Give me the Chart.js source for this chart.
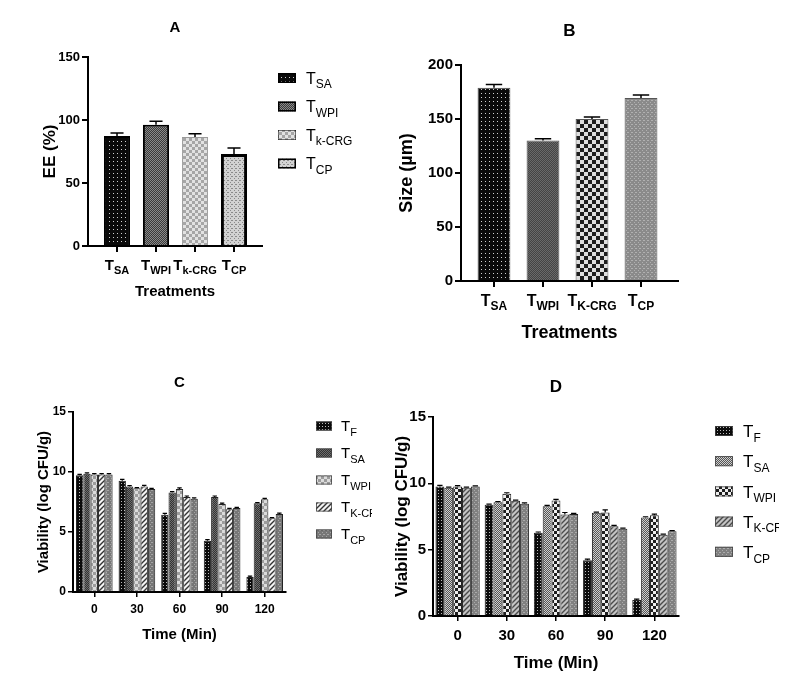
<!DOCTYPE html>
<html>
<head>
<meta charset="utf-8">
<script src="https://cdn.jsdelivr.net/npm/chart.js@4.4.1/dist/chart.umd.min.js"></script>
<style>
  body { margin: 0; background: #fff; width: 796px; height: 685px; position: relative; overflow: hidden; }
  canvas { position: absolute; }
</style>
</head>
<body>
<canvas id="chartA" width="380" height="310" style="left:0;top:0"></canvas>
<canvas id="chartB" width="320" height="350" style="left:380px;top:0"></canvas>
<canvas id="chartC" width="372" height="300" style="left:0;top:350px"></canvas>
<canvas id="chartD" width="399" height="325" style="left:380px;top:360px"></canvas>
<script>
// ---- data ----
const aCats = ['SA', 'WPI', 'k-CRG', 'CP'];
const aEE = [87.3, 96.2, 86.6, 73.0];
const aEEErr = [2.4, 2.8, 2.4, 4.8];
const aTicks = [0, 50, 100, 150];

const bCats = ['SA', 'WPI', 'K-CRG', 'CP'];
const bSize = [179, 130, 150, 169.5];
const bSizeErr = [3, 1.8, 1.8, 2.8];
const bTicks = [0, 50, 100, 150, 200];

const times = ['0', '30', '60', '90', '120'];
const cdSeries = ['F', 'SA', 'WPI', 'K-CRG', 'CP'];
const vTicks = [0, 5, 10, 15];

const cTF = [9.72, 9.28, 6.44, 4.28, 1.25];
const cTSA = [9.86, 8.80, 8.30, 7.92, 7.39];
const cTWPI = [9.80, 8.64, 8.58, 7.33, 7.72];
const cTK = [9.80, 8.80, 7.92, 6.89, 6.14];
const cTCP = [9.80, 8.58, 7.78, 7.00, 6.50];
const cTFErr = [0.08, 0.10, 0.12, 0.08, 0.08];
const cTSAErr = [0.06, 0.06, 0.06, 0.08, 0.06];
const cTWPIErr = [0.06, 0.06, 0.10, 0.08, 0.08];
const cTKErr = [0.06, 0.08, 0.08, 0.08, 0.06];
const cTCPErr = [0.06, 0.06, 0.06, 0.06, 0.08];

const dTF = [9.77, 8.38, 6.27, 4.20, 1.21];
const dTSA = [9.67, 8.58, 8.28, 7.78, 7.42];
const dTWPI = [9.77, 9.21, 8.71, 7.80, 7.60];
const dTK = [9.67, 8.68, 7.65, 6.77, 6.12];
const dTCP = [9.77, 8.46, 7.68, 6.57, 6.39];
const dTFErr = [0.08, 0.06, 0.06, 0.08, 0.06];
const dTSAErr = [0.04, 0.05, 0.06, 0.05, 0.06];
const dTWPIErr = [0.06, 0.08, 0.08, 0.20, 0.08];
const dTKErr = [0.04, 0.06, 0.15, 0.06, 0.05];
const dTCPErr = [0.04, 0.06, 0.06, 0.05, 0.05];

const FONT = "'Liberation Sans', Arial, sans-serif";
const NARROW = "'Liberation Sans Narrow', 'Arial Narrow', 'Liberation Sans', sans-serif";

Chart.defaults.color = '#000';

// ---- fill patterns ----
function pattern(size, draw) {
  const c = document.createElement('canvas');
  c.width = size; c.height = size;
  const g = c.getContext('2d');
  draw(g, size);
  return g.createPattern(c, 'repeat');
}
function dots(bg, fg, s) {
  return pattern(s, g => { g.fillStyle = bg; g.fillRect(0, 0, s, s); g.fillStyle = fg; g.fillRect(1, 1, 1, 1); });
}
function checker(a, b, s) {
  return pattern(2 * s, g => {
    g.fillStyle = a; g.fillRect(0, 0, 2 * s, 2 * s);
    g.fillStyle = b; g.fillRect(0, 0, s, s); g.fillRect(s, s, s, s);
  });
}
function hatch(bg, fg) {
  return pattern(5, g => {
    g.fillStyle = bg; g.fillRect(0, 0, 5, 5);
    g.strokeStyle = fg; g.lineWidth = 1.4;
    g.beginPath();
    g.moveTo(0, 5); g.lineTo(5, 0);
    g.moveTo(-1, 1); g.lineTo(1, -1);
    g.moveTo(4, 6); g.lineTo(6, 4);
    g.stroke();
  });
}
function speckle(bg, fg) {
  return pattern(4, g => {
    g.fillStyle = bg; g.fillRect(0, 0, 4, 4);
    g.fillStyle = fg; g.fillRect(0, 0, 1, 1); g.fillRect(2, 2, 1, 1); g.fillRect(3, 0, 1, 1);
  });
}

// "T" with a subscript
function drawT(ctx, x, y, sub, size, family, weight, center) {
  const big = `${weight} ${size}px ${family}`;
  const small = `${weight} ${Math.round(size * 0.72)}px ${family}`;
  ctx.font = big;
  const w1 = ctx.measureText('T').width;
  ctx.font = small;
  const w2 = ctx.measureText(sub).width;
  const x0 = center ? x - (w1 + w2) / 2 : x;
  ctx.textAlign = 'left';
  ctx.textBaseline = 'alphabetic';
  ctx.fillStyle = '#000';
  ctx.font = big;
  ctx.fillText('T', x0, y);
  ctx.font = small;
  ctx.fillText(sub, x0 + w1, y + size * 0.28);
}

function makePanel(cfg) {
  return {
    id: 'panel',
    afterDatasetsDraw(chart) {
      const ctx = chart.ctx;
      ctx.save();
      ctx.strokeStyle = '#000';
      ctx.lineWidth = cfg.errWidth || 1.5;
      chart.data.datasets.forEach((ds, di) => {
        if (!ds.errors) return;
        const meta = chart.getDatasetMeta(di);
        const ys = chart.scales.y;
        meta.data.forEach((bar, j) => {
          const raw = ds.data[j];
          const val = typeof raw === 'object' ? raw.y : raw;
          const top = ys.getPixelForValue(val + ds.errors[j]);
          const half = bar.width * (cfg.cap || 0.5) / 2;
          ctx.beginPath();
          ctx.moveTo(bar.x, bar.y);
          ctx.lineTo(bar.x, top);
          ctx.moveTo(bar.x - half, top);
          ctx.lineTo(bar.x + half, top);
          ctx.stroke();
        });
      });
      ctx.restore();
    },
    afterDraw(chart) {
      const ctx = chart.ctx;
      const area = chart.chartArea;
      ctx.save();
      ctx.fillStyle = '#000';
      ctx.font = `bold ${cfg.letterSize}px ${cfg.family}`;
      ctx.textAlign = 'center';
      ctx.textBaseline = 'middle';
      ctx.fillText(cfg.letter, (area.left + area.right) / 2, cfg.letterY);
      if (cfg.xSubs) {
        const xs = chart.scales.x;
        cfg.xSubs.forEach((s, i) => {
          drawT(ctx, xs.getPixelForValue(i), xs.top + cfg.xLabelDy, s, cfg.xLabelSize, cfg.family, 'bold', true);
        });
      }
      if (cfg.legend) {
        const L = cfg.legend;
        L.items.forEach((it, i) => {
          const cy = L.y + i * L.dy;
          ctx.fillStyle = it.fill;
          ctx.fillRect(L.x, cy - L.h / 2, L.w, L.h);
          ctx.strokeStyle = it.border;
          ctx.lineWidth = it.bw;
          ctx.strokeRect(L.x + it.bw / 2, cy - L.h / 2 + it.bw / 2, L.w - it.bw, L.h - it.bw);
          drawT(ctx, L.tx, cy + L.size * 0.36, it.sub, L.size, L.family, 'normal', false);
        });
      }
      ctx.restore();
    }
  };
}

function axisStyle() {
  return {
    grid: { offset: false, drawOnChartArea: false, drawTicks: true, tickLength: 6, color: '#000', lineWidth: 2 },
    border: { color: '#000', width: 2 }
  };
}

// ---- Panel A ----
const aFill = [dots('#0a0a0a', '#cfcfcf', 4), checker('#3a3a3a', '#8a8a8a', 1), checker('#a6a6a6', '#e2e2e2', 3), speckle('#d2d2d2', '#8a8a8a')];
const aBorder = ['#000', '#000', '#9a9a9a', '#000'];
const aBorderW = [2, 2, 1, 3];

new Chart(document.getElementById('chartA'), {
  type: 'bar',
  data: {
    datasets: [{
      data: aEE.map((v, i) => ({ x: i, y: v })),
      errors: aEEErr,
      backgroundColor: aFill,
      borderColor: aBorder,
      borderWidth: aBorderW,
      barPercentage: 0.67,
      categoryPercentage: 1
    }]
  },
  options: {
    responsive: false, animation: false, devicePixelRatio: 1,
    layout: { padding: { left: 0, right: 118, top: 57, bottom: 0 } },
    plugins: { legend: { display: false }, tooltip: { enabled: false } },
    scales: {
      x: {
        type: 'linear', offset: false, min: -0.744, max: 3.718,
        afterBuildTicks: ax => { ax.ticks = aCats.map((c, i) => ({ value: i })); },
        afterFit: ax => { ax.height = 64; },
        ticks: { display: false },
        ...axisStyle(),
        title: { display: true, text: 'Treatments', font: { family: FONT, size: 15, weight: 'bold' }, padding: { top: 0, bottom: 9 } }
      },
      y: {
        min: 0, max: 150,
        afterBuildTicks: ax => { ax.ticks = aTicks.map(v => ({ value: v })); },
        afterFit: ax => { ax.width = 88; },
        ticks: { font: { family: FONT, size: 13, weight: 'bold' }, padding: 2 },
        ...axisStyle(),
        title: { display: true, text: 'EE (%)', font: { family: FONT, size: 17, weight: 'bold' }, padding: { top: 40, bottom: 0 } }
      }
    }
  },
  plugins: [makePanel({
    letter: 'A', letterY: 28, letterSize: 15, family: FONT,
    xSubs: aCats, xLabelDy: 24, xLabelSize: 15, cap: 0.5,
    legend: {
      x: 278, w: 18, h: 10, y: 78, dy: 28.5, tx: 306, size: 16, family: FONT,
      items: aCats.map((c, i) => ({ sub: c, fill: aFill[i], border: '#000', bw: i === 2 ? 0.5 : 1.5 }))
    }
  })]
});

// ---- Panel B ----
const bFill = [dots('#0a0a0a', '#d0d0d0', 4), checker('#444', '#6a6a6a', 1), checker('#1e1e1e', '#dedede', 4), speckle('#8a8a8a', '#b0b0b0')];

new Chart(document.getElementById('chartB'), {
  type: 'bar',
  data: {
    datasets: [{
      data: bSize.map((v, i) => ({ x: i, y: v })),
      errors: bSizeErr,
      backgroundColor: bFill,
      borderColor: '#555',
      borderWidth: 1,
      barPercentage: 0.67,
      categoryPercentage: 1
    }]
  },
  options: {
    responsive: false, animation: false, devicePixelRatio: 1,
    layout: { padding: { left: 0, right: 22, top: 65, bottom: 0 } },
    plugins: { legend: { display: false }, tooltip: { enabled: false } },
    scales: {
      x: {
        type: 'linear', offset: false, min: -0.673, max: 3.755,
        afterBuildTicks: ax => { ax.ticks = bCats.map((c, i) => ({ value: i })); },
        afterFit: ax => { ax.height = 69; },
        ticks: { display: false },
        ...axisStyle(),
        title: { display: true, text: 'Treatments', font: { family: FONT, size: 18, weight: 'bold' }, padding: { top: 0, bottom: 6 } }
      },
      y: {
        min: 0, max: 200,
        afterBuildTicks: ax => { ax.ticks = bTicks.map(v => ({ value: v })); },
        afterFit: ax => { ax.width = 81; },
        ticks: { font: { family: FONT, size: 15, weight: 'bold' }, padding: 2 },
        ...axisStyle(),
        title: { display: true, text: 'Size (\u00b5m)', font: { family: FONT, size: 18, weight: 'bold' }, padding: { top: 16, bottom: 0 } }
      }
    }
  },
  plugins: [makePanel({
    letter: 'B', letterY: 31, letterSize: 17, family: FONT,
    xSubs: bCats, xLabelDy: 25, xLabelSize: 16, cap: 0.5
  })]
});

// ---- Panels C and D ----
function viabilityChart(id, series, errs, fills, borderW, pad, xH, yW, sizes, panel) {
  return new Chart(document.getElementById(id), {
    type: 'bar',
    data: {
      labels: times,
      datasets: series.map((s, i) => ({
        label: 'T' + cdSeries[i],
        data: s,
        errors: errs[i],
        backgroundColor: fills[i],
        borderColor: '#222',
        borderWidth: borderW,
        barPercentage: 1,
        categoryPercentage: sizes.cat
      }))
    },
    options: {
      responsive: false, animation: false, devicePixelRatio: 1,
      layout: { padding: pad },
      plugins: { legend: { display: false }, tooltip: { enabled: false } },
      scales: {
        x: {
          afterFit: ax => { ax.height = xH; },
          ticks: { font: { family: NARROW, size: sizes.tick, weight: 'bold' }, padding: sizes.xPad, maxRotation: 0 },
          grid: { offset: false, drawOnChartArea: false, drawTicks: true, tickLength: 5, color: '#000', lineWidth: 1.5 },
          border: { color: '#000', width: 2 },
          title: { display: true, text: 'Time (Min)', font: { family: NARROW, size: sizes.title, weight: 'bold' }, padding: { top: 0, bottom: sizes.xtPad } }
        },
        y: {
          min: 0, max: 15,
          afterBuildTicks: ax => { ax.ticks = vTicks.map(v => ({ value: v })); },
          afterFit: ax => { ax.width = yW; },
          ticks: { font: { family: NARROW, size: sizes.tick, weight: 'bold' }, padding: 2 },
          grid: { drawOnChartArea: false, drawTicks: true, tickLength: 5, color: '#000', lineWidth: 1.5 },
          border: { color: '#000', width: 2 },
          title: { display: true, text: 'Viability (log CFU/g)', font: { family: NARROW, size: sizes.title, weight: 'bold' }, padding: { top: sizes.ytPad, bottom: 0 } }
        }
      }
    },
    plugins: [makePanel(panel)]
  });
}

const cFill = [dots('#0a0a0a', '#bbbbbb', 3), checker('#333', '#6e6e6e', 1), checker('#9c9c9c', '#dcdcdc', 3), hatch('#f4f4f4', '#333'), speckle('#777', '#a4a4a4')];
viabilityChart('chartC', [cTF, cTSA, cTWPI, cTK, cTCP], [cTFErr, cTSAErr, cTWPIErr, cTKErr, cTCPErr], cFill, 1,
  { left: 0, right: 86, top: 62, bottom: 0 }, 58, 73,
  { cat: 0.86, tick: 12, title: 15, xPad: 5, xtPad: 6, ytPad: 35 },
  {
    letter: 'C', letterY: 33, letterSize: 15, family: NARROW, cap: 0.6, errWidth: 1.2,
    legend: {
      x: 316, w: 16, h: 9, y: 76, dy: 27, tx: 341, size: 15, family: NARROW,
      items: cdSeries.map((s, i) => ({ sub: s, fill: cFill[i], border: '#444', bw: 0.8 }))
    }
  });

const dFill = [dots('#0a0a0a', '#bbbbbb', 3), checker('#555', '#cfcfcf', 1), checker('#1e1e1e', '#eeeeee', 3), hatch('#c4c4c4', '#4a4a4a'), speckle('#808080', '#ababab')];
viabilityChart('chartD', [dTF, dTSA, dTWPI, dTK, dTCP], [dTFErr, dTSAErr, dTWPIErr, dTKErr, dTCPErr], dFill, 1,
  { left: 0, right: 100, top: 57, bottom: 0 }, 69, 53,
  { cat: 0.9, tick: 15, title: 17, xPad: 6, xtPad: 11, ytPad: 12 },
  {
    letter: 'D', letterY: 27, letterSize: 17, family: NARROW, cap: 0.6, errWidth: 1.2,
    legend: {
      x: 335, w: 18, h: 10, y: 71, dy: 30.2, tx: 363, size: 17, family: NARROW,
      items: cdSeries.map((s, i) => ({ sub: s, fill: dFill[i], border: '#444', bw: 0.8 }))
    }
  });
</script>
</body>
</html>
